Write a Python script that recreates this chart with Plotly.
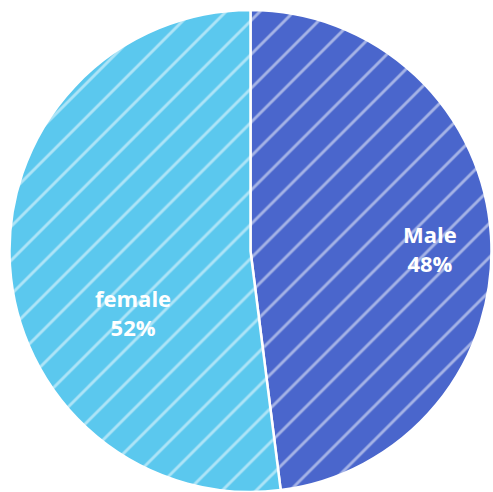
import plotly.graph_objects as go

labels = ["Male", "female"]
values = [48, 52]
colors = ["#4A66CC", "#5BC8EE"]
label_pos = {"Male": (0.870, 0.506), "female": (0.258, 0.373)}

total = sum(values)
fig = go.Figure(go.Pie(
    labels=labels,
    values=values,
    sort=False,
    direction="clockwise",
    rotation=0,
    marker=dict(colors=colors, line=dict(color="white", width=2.5),
                pattern=dict(shape="/", fgcolor="white", fillmode="overlay", size=24, solidity=0.12)),
    textinfo="none",
    showlegend=False,
    hoverinfo="label+percent",
))
for lab, val in zip(labels, values):
    x, y = label_pos[lab]
    fig.add_annotation(
        x=x, y=y, xref="paper", yref="paper", showarrow=False,
        xanchor="center", yanchor="middle",
        text=f"<b>{lab}<br>{round(100 * val / total)}%</b>",
        font=dict(color="white", size=22, family="Open Sans"),
        align="center",
    )
fig.update_layout(
    width=493, height=492,
    margin=dict(l=8, r=0, t=10, b=0),
    paper_bgcolor="white",
)
fig.write_html("out.html")
